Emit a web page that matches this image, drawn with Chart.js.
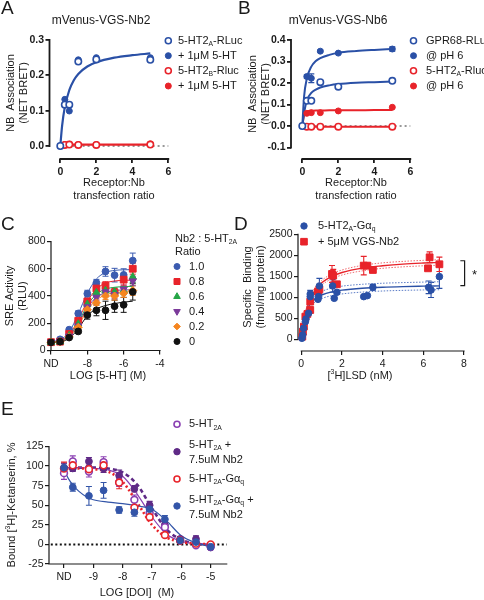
<!DOCTYPE html>
<html>
<head>
<meta charset="utf-8">
<script src="https://cdn.jsdelivr.net/npm/chart.js@4.4.1/dist/chart.umd.min.js"></script>
<style>
  body { margin: 0; background: #fff; }
  #wrap { position: relative; width: 484px; height: 600px; overflow: hidden; }
  canvas { position: absolute; }
</style>
</head>
<body>
<div id="wrap">
  <canvas id="cA"></canvas>
  <canvas id="cB"></canvas>
  <canvas id="cC"></canvas>
  <canvas id="cD"></canvas>
  <canvas id="cE"></canvas>
</div>
<script>
// ---- Panel A / B : receptor:Nb transfection ratio ----
const ratioX = [0, 0.25, 0.5, 1, 2, 5];
const fitRatioX = [0, 0.1, 0.25, 0.5, 0.75, 1, 1.5, 2, 3, 4, 5];

const aHt2aRluc = [0, 0.117, 0.117, 0.239, 0.245, 0.244];
const aHt2a5ht  = [0, 0.132, 0.099, 0.244, 0.25, 0.25];
const aHt2bRluc = [null, 0.003, 0.004, 0.003, 0.003, 0.004];
const aHt2b5ht  = [null, 0.004, 0.005, 0.004, 0.004, 0.006];
const aFitBlue  = [0, 0.057, 0.11, 0.158, 0.186, 0.204, 0.225, 0.237, 0.25, 0.257, 0.262];
const aFitRed   = [0, 0.003, 0.004, 0.004, 0.004, 0.004, 0.004, 0.004, 0.004, 0.004, 0.004];

const bGpr68      = [0, 0.117, 0.117, 0.204, 0.183, 0.21];
const bGpr68pH    = [0, 0.23, 0.222, 0.348, 0.339, 0.358];
const bGpr68pHErr = [0, 0.008, 0.02, 0.005, 0.004, 0.01];
const bHt2a       = [null, -0.003, -0.003, -0.003, -0.003, -0.003];
const bHt2apH     = [null, 0.059, 0.062, 0.062, 0.07, 0.087];
const bFitGpr     = [0, 0.06, 0.119, 0.154, 0.169, 0.179, 0.189, 0.195, 0.201, 0.204, 0.207];
const bFitGprPH   = [0, 0.138, 0.22, 0.276, 0.302, 0.316, 0.331, 0.341, 0.349, 0.354, 0.358];
const bFitHt2a    = [0, -0.003, -0.003, -0.003, -0.003, -0.003, -0.003, -0.003, -0.003, -0.003, -0.003];
const bFitHt2apH  = [0, 0.05, 0.068, 0.071, 0.072, 0.072, 0.073, 0.073, 0.073, 0.074, 0.074];

// ---- Panel C : SRE activity vs LOG [5-HT] ----
const doseC  = [-10, -9.5, -9, -8.5, -8, -7.5, -7, -6.5, -6, -5.5];
const c10    = [61, 82, 153, 272, 417, 497, 580, 553, 555, 660];
const c10Err = [8, 8, 10, 18, 25, 25, 35, 50, 45, 55];
const c08    = [61, 65, 121, 218, 360, 455, 475, 425, 520, 600];
const c08Err = [8, 8, 10, 15, 20, 25, 30, 30, 40, 40];
const c06    = [60, 65, 110, 195, 340, 425, 440, 430, 440, 540];
const c06Err = [6, 6, 8, 12, 20, 20, 25, 30, 30, 40];
const c04    = [60, 68, 105, 180, 320, 390, 430, 410, 450, 510];
const c04Err = [6, 6, 8, 12, 18, 20, 25, 30, 30, 35];
const c02    = [60, 65, 100, 170, 300, 350, 400, 400, 420, 440];
const c02Err = [6, 6, 8, 12, 18, 20, 25, 30, 30, 35];
const c00    = [60, 65, 95, 140, 260, 295, 295, 325, 335, 430];
const c00Err = [6, 6, 8, 12, 30, 40, 67, 45, 55, 60];
const cFit10 = [65, 80, 135, 270, 420, 525, 572, 588, 592, 594];
const cFit08 = [62, 72, 115, 225, 360, 450, 495, 510, 515, 517];
const cFit06 = [60, 70, 108, 205, 332, 412, 450, 464, 469, 471];
const cFit04 = [60, 68, 104, 195, 315, 390, 425, 440, 444, 446];
const cFit02 = [60, 67, 100, 180, 295, 370, 408, 424, 430, 432];
const cFit00 = [60, 64, 90, 160, 255, 305, 330, 345, 355, 362];

// ---- Panel D : [3H]LSD saturation binding ----
const dBlueX   = [0.03, 0.07, 0.11, 0.2, 0.23, 0.36, 0.44, 0.44, 0.82, 0.85, 0.89, 1.54, 1.62, 1.75, 3.07, 3.25, 3.52, 6.26, 6.38, 6.79];
const dBlueY   = [24, 103, 262, 420, 484, 619, 1016, 1079, 952, 1016, 1270, 1270, 976, 1119, 1016, 1040, 1238, 1238, 1175, 1492];
const dBlueErr = [0, 0, 0, 0, 0, 0, 150, 0, 0, 0, 180, 150, 0, 0, 0, 0, 70, 150, 180, 280];
const dRedX    = [0.05, 0.08, 0.13, 0.2, 0.3, 0.44, 0.44, 0.82, 0.89, 1.51, 1.57, 1.75, 3.07, 3.25, 3.52, 6.23, 6.31, 6.79];
const dRedY    = [63, 183, 302, 540, 603, 698, 897, 1135, 1190, 1556, 1516, 1310, 1754, 1754, 1651, 1690, 1952, 1786];
const dRedErr  = [0, 0, 0, 0, 0, 0, 0, 0, 0, 200, 150, 0, 220, 0, 0, 0, 130, 170];
const dFitX       = [0, 0.1, 0.2, 0.35, 0.5, 0.75, 1, 1.5, 2, 3, 4, 5, 6, 6.8];
const dFitRed     = [0, 355, 600, 850, 1025, 1220, 1345, 1500, 1590, 1695, 1750, 1790, 1815, 1830];
const dFitRedHi   = [0, 380, 640, 900, 1080, 1280, 1400, 1560, 1650, 1760, 1820, 1855, 1880, 1895];
const dFitRedLo   = [0, 330, 560, 800, 970, 1160, 1290, 1440, 1530, 1630, 1690, 1725, 1750, 1765];
const dFitBlue    = [0, 370, 580, 770, 880, 990, 1055, 1130, 1170, 1215, 1240, 1255, 1265, 1272];
const dFitBlueHi  = [0, 400, 640, 840, 950, 1070, 1140, 1220, 1265, 1310, 1335, 1350, 1362, 1370];
const dFitBlueLo  = [0, 340, 530, 700, 810, 910, 970, 1040, 1080, 1125, 1150, 1165, 1175, 1180];

// ---- Panel E : [3H]-ketanserin competition with DOI ----
const doseE        = [-10, -9.7, -9.15, -8.65, -8.12, -7.6, -7.08, -6.56, -6.04, -5.5, -5];
const eHt2a        = [91, 106, 93, 105, 79, 57, 40, 22, 5, -1, -3];
const eHt2aErr     = [8, 7, 7, 7, 5, 6, 5, 4, 3, 2, 2];
const eHt2aNb2     = [97, 97, 106, 97, 88, 71, 50, 25, 7, 7, -4];
const eHt2aNb2Err  = [6, 4, 5, 5, 7, 4, 5, 4, 3, 4, 2];
const eGq          = [97, 101, 96, 101, 79, 47, 35, 12, 5, 1, 0];
const eGqErr       = [8, 5, 5, 7, 8, 8, 4, 3, 2, 2, 2];
const eGqNb2       = [98, 73, 62, 69, 44, 41, 45, 32, 5, 3, -3];
const eGqNb2Err    = [6, 5, 12, 10, 4, 5, 4, 5, 2, 2, 2];
const eFitX        = [-10, -9.5, -9, -8.5, -8, -7.5, -7, -6.5, -6, -5.5, -5];
const eFitHt2a     = [98, 98, 97, 95, 87, 64, 35, 13, 4, 1, 0];
const eFitHt2aNb2  = [98, 98, 98, 97, 92, 76, 46, 19, 6, 1, -1];
const eFitGq       = [97, 97, 96, 93, 80, 53, 25, 9, 3, 1, 0];
const eFitGqNb2X   = [-10, -9.85, -9.7, -9.5, -9.2, -9, -8.5, -8, -7.5, -7, -6.5, -6, -5.5, -5];
const eFitGqNb2    = [96, 84, 76, 68, 60, 57, 54, 52, 49, 45, 30, 11, 2, -3];

// tick values
const xTicksAB = [0, 2, 4, 6];
const yTicksA  = [0, 0.1, 0.2, 0.3];
const yTicksB  = [-0.1, 0, 0.1, 0.2, 0.3, 0.4];
const xTicksC  = [-10, -8, -6, -4];
const yTicksC  = [0, 200, 400, 600, 800];
const xTicksD  = [0, 2, 4, 6, 8];
const yTicksD  = [0, 500, 1000, 1500, 2000, 2500];
const xTicksE  = [-10, -9, -8, -7, -6, -5];
const yTicksE  = [-25, 0, 25, 50, 75, 100, 125];

const FONT = '"Liberation Sans", Arial, Helvetica, sans-serif';
const INK = '#1a1a1a';
const BLUE = '#2a50a6', RED = '#e8232a', GREEN = '#25a546', PURPLE = '#5f2a86',
      LPURPLE = '#8a3fb2', ORANGE = '#f5851f', BLACK = '#111';

function pts(xs, ys) { return xs.map(function(x, i) { return {x: x, y: ys[i]}; }); }

function marks(xs, ys, color, o) {
	o = o || {};
	return {
		type: 'scatter', data: pts(xs, ys), errs: o.errs || null,
		borderColor: color, backgroundColor: color,
		pointStyle: o.style || 'circle', pointRotation: o.rot || 0,
		pointRadius: o.r || 3, pointBorderWidth: o.open ? 1.6 : 1,
		pointBackgroundColor: o.open ? '#fff' : color, pointBorderColor: color,
		showLine: false, clip: false, order: 0
	};
}

function fit(xs, ys, color, w, dash, order) {
	return {
		type: 'line', data: pts(xs, ys), borderColor: color, borderWidth: w,
		borderDash: dash || [], pointRadius: 0, fill: false,
		cubicInterpolationMode: 'monotone', clip: false, order: order || 2
	};
}

function richParts(str) {
	var out = [], re = /([_^])\{([^}]*)\}/g, last = 0, m;
	while ((m = re.exec(str))) {
		if (m.index > last) out.push({t: str.slice(last, m.index), k: ''});
		out.push({t: m[2], k: m[1]});
		last = re.lastIndex;
	}
	if (last < str.length) out.push({t: str.slice(last), k: ''});
	return out;
}

function drawRich(ctx, str, x, y, size, align, weight) {
	var parts = richParts(str), w = 0;
	var fontFor = function(k) { return (weight || 'normal') + ' ' + (k ? size * 0.62 : size) + 'px ' + FONT; };
	parts.forEach(function(p) { ctx.font = fontFor(p.k); p.w = ctx.measureText(p.t).width; w += p.w; });
	var cx = align === 'center' ? x - w / 2 : (align === 'right' ? x - w : x);
	ctx.textAlign = 'left';
	ctx.textBaseline = 'middle';
	parts.forEach(function(p) {
		ctx.font = fontFor(p.k);
		var dy = p.k === '_' ? size * 0.32 : (p.k === '^' ? -size * 0.35 : 0);
		ctx.fillText(p.t, cx, y + dy);
		cx += p.w;
	});
}

function drawMarker(ctx, k) {
	var r = k.r || 3.2, x = k.x, y = k.y;
	ctx.beginPath();
	if (k.style === 'rect') ctx.rect(x - r, y - r, 2 * r, 2 * r);
	else if (k.style === 'triangle') { ctx.moveTo(x, y - r * 1.15); ctx.lineTo(x + r, y + r * 0.6); ctx.lineTo(x - r, y + r * 0.6); ctx.closePath(); }
	else if (k.style === 'triangleDown') { ctx.moveTo(x, y + r * 1.15); ctx.lineTo(x + r, y - r * 0.6); ctx.lineTo(x - r, y - r * 0.6); ctx.closePath(); }
	else if (k.style === 'diamond') { ctx.moveTo(x, y - r * 1.2); ctx.lineTo(x + r * 1.2, y); ctx.lineTo(x, y + r * 1.2); ctx.lineTo(x - r * 1.2, y); ctx.closePath(); }
	else ctx.arc(x, y, r, 0, Math.PI * 2);
	ctx.fillStyle = k.open ? '#fff' : k.color;
	ctx.fill();
	ctx.lineWidth = k.open ? 1.6 : 1;
	ctx.strokeStyle = k.color;
	ctx.stroke();
}

function axis(c, isX, size, font, lw) {
	return {
		type: 'linear', min: c.min, max: c.max,
		afterBuildTicks: function(s) { s.ticks = c.ticks.map(function(v) { return {value: v}; }); },
		afterFit: function(s) { if (isX) s.height = size; else s.width = size; },
		ticks: {autoSkip: false, maxRotation: 0, minRotation: 0, padding: isX ? 3 : 1.5, color: INK, font: font, callback: c.fmt},
		grid: {display: true, drawOnChartArea: false, drawTicks: true, tickLength: 4,
			tickWidth: lw, tickColor: INK, color: INK, lineWidth: lw},
		border: {display: false}
	};
}

function decoPlugin(box, p) {
	return {
		id: 'deco',
		beforeDatasetsDraw: function(chart) {
			var ctx = chart.ctx, xs = chart.scales.x, ys = chart.scales.y, ca = chart.chartArea;
			ctx.save();
			// detached axis lines, Prism style
			ctx.strokeStyle = INK;
			ctx.lineWidth = p.axisW;
			ctx.beginPath();
			ctx.moveTo(ca.left, ys.getPixelForValue(p.y.line[1]) - p.axisW / 2);
			ctx.lineTo(ca.left, ys.getPixelForValue(p.y.line[0]) + p.axisW / 2);
			ctx.moveTo(xs.getPixelForValue(p.x.line[0]) - p.axisW / 2, ca.bottom);
			ctx.lineTo(xs.getPixelForValue(p.x.line[1]) + p.axisW / 2, ca.bottom);
			ctx.stroke();
			// error bars
			chart.data.datasets.forEach(function(ds) {
				if (!ds.errs) return;
				ctx.strokeStyle = ds.borderColor;
				ctx.lineWidth = p.errW || 1.2;
				ds.data.forEach(function(d, j) {
					var e = ds.errs[j];
					if (d.y == null || !e) return;
					var x = xs.getPixelForValue(d.x);
					var y1 = ys.getPixelForValue(d.y + e), y2 = ys.getPixelForValue(d.y - e);
					var cw = p.capW || 3;
					ctx.beginPath();
					ctx.moveTo(x, y1); ctx.lineTo(x, y2);
					ctx.moveTo(x - cw, y1); ctx.lineTo(x + cw, y1);
					ctx.moveTo(x - cw, y2); ctx.lineTo(x + cw, y2);
					ctx.stroke();
				});
			});
			if (p.bracket) {
				var b = p.bracket;
				ctx.strokeStyle = INK;
				ctx.lineWidth = 1.2;
				ctx.beginPath();
				ctx.moveTo(xs.getPixelForValue(b.x0), ys.getPixelForValue(b.y1));
				ctx.lineTo(xs.getPixelForValue(b.x1), ys.getPixelForValue(b.y1));
				ctx.lineTo(xs.getPixelForValue(b.x1), ys.getPixelForValue(b.y0));
				ctx.lineTo(xs.getPixelForValue(b.x0), ys.getPixelForValue(b.y0));
				ctx.stroke();
			}
			ctx.restore();
		},
		afterDraw: function(chart) {
			var ctx = chart.ctx;
			ctx.save();
			ctx.translate(-box.x, -box.y);
			(p.texts || []).forEach(function(t) {
				ctx.fillStyle = t.color || INK;
				if (t.rot) {
					ctx.save();
					ctx.translate(t.x, t.y);
					ctx.rotate(-Math.PI / 2);
					drawRich(ctx, t.t, 0, 0, t.size || 11, 'center', t.weight);
					ctx.restore();
				} else {
					drawRich(ctx, t.t, t.x, t.y, t.size || 11, t.align || 'left', t.weight);
				}
			});
			(p.keys || []).forEach(function(k) { drawMarker(ctx, k); });
			ctx.restore();
		}
	};
}

function makePanel(id, box, area, p) {
	var cv = document.getElementById(id);
	cv.width = box.w; cv.height = box.h;
	cv.style.left = box.x + 'px'; cv.style.top = box.y + 'px';
	cv.style.width = box.w + 'px'; cv.style.height = box.h + 'px';
	new Chart(cv, {
		type: 'scatter',
		data: {datasets: p.datasets},
		options: {
			responsive: false, animation: false, devicePixelRatio: 1, events: [],
			layout: {padding: {left: 0, top: area.t - box.y, right: box.x + box.w - area.r, bottom: 0}},
			plugins: {legend: {display: false}, tooltip: {enabled: false}, title: {display: false}},
			scales: {
				x: axis(p.x, true, box.y + box.h - area.b, p.tickFont, p.axisW),
				y: axis(p.y, false, area.l - box.x, p.tickFont, p.axisW)
			}
		},
		plugins: [decoPlugin(box, p)]
	});
}

var boldTicks = {family: FONT, size: 10.5, weight: 'bold'};
var plainTicks = {family: FONT, size: 10.5};
var asText = function(v) { return String(v); };
var oneDec = function(v) { return v.toFixed(1); };
var ndText = function(v) { return v === -10 ? 'ND' : String(v); };

// ---------- A ----------
makePanel('cA', {x: 0, y: 0, w: 245, h: 205}, {l: 49.5, t: 40, r: 168.3, b: 159}, {
	x: {min: -0.6, max: 6, ticks: xTicksAB, fmt: asText, line: [0, 6]},
	y: {min: -0.0368, max: 0.3, ticks: yTicksA, fmt: oneDec, line: [0, 0.3]},
	tickFont: boldTicks, axisW: 1.8,
	datasets: [
		fit([-0.15, 6], [0, 0], '#777', 1.5, [2, 3], 3),
		fit(fitRatioX, aFitBlue, BLUE, 2.2),
		fit(fitRatioX, aFitRed, RED, 2.2),
		marks(ratioX, aHt2aRluc, BLUE, {open: true, r: 3.2}),
		marks(ratioX, aHt2a5ht, BLUE, {r: 3}),
		marks(ratioX, aHt2bRluc, RED, {open: true, r: 3.2}),
		marks(ratioX, aHt2b5ht, RED, {r: 3})
	],
	texts: [
		{t: 'A', x: 1, y: 9, size: 19},
		{t: 'mVenus-VGS-Nb2', x: 101, y: 21, size: 12, align: 'center'},
		{t: 'NB  Association', x: 11, y: 93, rot: true},
		{t: '(NET BRET)', x: 24, y: 93, rot: true},
		{t: 'Receptor:Nb', x: 114, y: 183, align: 'center'},
		{t: 'transfection ratio', x: 114, y: 196, align: 'center'},
		{t: '5-HT2_{A}-RLuc', x: 178, y: 40.7},
		{t: '+ 1\u03bcM 5-HT', x: 178, y: 55.7},
		{t: '5-HT2_{B}-Rluc', x: 178, y: 70.7},
		{t: '+ 1\u03bcM 5-HT', x: 178, y: 86}
	],
	keys: [
		{x: 168.3, y: 40.7, color: BLUE, open: true, r: 3},
		{x: 168.3, y: 55.7, color: BLUE, r: 3},
		{x: 168.3, y: 70.7, color: RED, open: true, r: 3},
		{x: 168.3, y: 86, color: RED, r: 3}
	]
});

// ---------- B ----------
makePanel('cB', {x: 234, y: 0, w: 250, h: 205}, {l: 291, t: 40, r: 410.3, b: 159}, {
	x: {min: -0.628, max: 6, ticks: xTicksAB, fmt: asText, line: [0, 6]},
	y: {min: -0.1535, max: 0.4, ticks: yTicksB, fmt: oneDec, line: [-0.1, 0.4]},
	tickFont: boldTicks, axisW: 1.8, capW: 3,
	datasets: [
		fit([-0.15, 6], [0, 0], '#777', 1.5, [2, 3], 3),
		fit(fitRatioX, bFitGprPH, BLUE, 2),
		fit(fitRatioX, bFitGpr, BLUE, 2),
		fit(fitRatioX, bFitHt2apH, RED, 2),
		fit(fitRatioX, bFitHt2a, RED, 2),
		marks(ratioX, bGpr68, BLUE, {open: true, r: 3.2}),
		marks(ratioX, bGpr68pH, BLUE, {r: 3, errs: bGpr68pHErr}),
		marks(ratioX, bHt2a, RED, {open: true, r: 3.2}),
		marks(ratioX, bHt2apH, RED, {r: 3})
	],
	texts: [
		{t: 'B', x: 238, y: 9, size: 19},
		{t: 'mVenus-VGS-Nb6', x: 338, y: 21, size: 12, align: 'center'},
		{t: 'NB  Association', x: 252.5, y: 94, rot: true},
		{t: '(NET BRET)', x: 265.5, y: 94, rot: true},
		{t: 'Receptor:Nb', x: 356, y: 183, align: 'center'},
		{t: 'transfection ratio', x: 356, y: 196, align: 'center'},
		{t: 'GPR68-RLuc', x: 426, y: 40.7},
		{t: '@ pH 6', x: 426, y: 55.7},
		{t: '5-HT2_{A}-Rluc', x: 426, y: 70.7},
		{t: '@ pH 6', x: 426, y: 86}
	],
	keys: [
		{x: 413.5, y: 40.7, color: BLUE, open: true, r: 3},
		{x: 413.5, y: 55.7, color: BLUE, r: 3},
		{x: 413.5, y: 70.7, color: RED, open: true, r: 3},
		{x: 413.5, y: 86, color: RED, r: 3}
	]
});

// ---------- C ----------
makePanel('cC', {x: 0, y: 205, w: 245, h: 190}, {l: 51, t: 241.5, r: 160, b: 350.5}, {
	x: {min: -10, max: -4, ticks: xTicksC, fmt: ndText, line: [-10, -4]},
	y: {min: 0, max: 800, ticks: yTicksC, fmt: asText, line: [0, 800]},
	tickFont: plainTicks, axisW: 1.2, capW: 3, errW: 1,
	datasets: [
		fit(doseC, cFit00, BLACK, 1),
		fit(doseC, cFit02, ORANGE, 1),
		fit(doseC, cFit04, '#7b3a9a', 1),
		fit(doseC, cFit06, GREEN, 1),
		fit(doseC, cFit08, RED, 1),
		fit(doseC, cFit10, '#3b5bb0', 1),
		marks(doseC, c00, BLACK, {r: 3.4, errs: c00Err}),
		marks(doseC, c02, ORANGE, {style: 'rectRot', r: 4, errs: c02Err}),
		marks(doseC, c04, '#7b3a9a', {style: 'triangle', rot: 180, r: 4.2, errs: c04Err}),
		marks(doseC, c06, GREEN, {style: 'triangle', r: 4.2, errs: c06Err}),
		marks(doseC, c08, RED, {style: 'rect', r: 4.8, errs: c08Err}),
		marks(doseC, c10, '#3b5bb0', {r: 3.4, errs: c10Err})
	],
	texts: [
		{t: 'C', x: 1, y: 225, size: 19},
		{t: 'SRE Activity', x: 9.5, y: 296, rot: true},
		{t: '(RLU)', x: 22.5, y: 296, rot: true},
		{t: 'LOG [5-HT] (M)', x: 108, y: 376, align: 'center'},
		{t: 'Nb2 : 5-HT_{2A}', x: 175, y: 239},
		{t: 'Ratio', x: 175, y: 251.5},
		{t: '1.0', x: 189, y: 266.5},
		{t: '0.8', x: 189, y: 281.5},
		{t: '0.6', x: 189, y: 296.5},
		{t: '0.4', x: 189, y: 311.5},
		{t: '0.2', x: 189, y: 326.5},
		{t: '0', x: 189, y: 341.5}
	],
	keys: [
		{x: 177, y: 266.5, color: '#3b5bb0', r: 3},
		{x: 177, y: 281.5, color: RED, style: 'rect', r: 3},
		{x: 177, y: 296.5, color: GREEN, style: 'triangle', r: 3.3},
		{x: 177, y: 311.5, color: '#7b3a9a', style: 'triangleDown', r: 3.3},
		{x: 177, y: 326.5, color: ORANGE, style: 'diamond', r: 2.8},
		{x: 177, y: 341.5, color: BLACK, r: 3}
	]
});

// ---------- D ----------
makePanel('cD', {x: 232, y: 205, w: 252, h: 190}, {l: 298, t: 234.3, r: 464, b: 351}, {
	x: {min: -0.162, max: 8, ticks: xTicksD, fmt: asText, line: [0, 8]},
	y: {min: -278.6, max: 2500, ticks: yTicksD, fmt: asText, line: [0, 2500]},
	tickFont: plainTicks, axisW: 1.2, capW: 3, errW: 1.1,
	bracket: {x0: 7.82, x1: 8.03, y0: 1280, y1: 1870},
	datasets: [
		fit(dFitX, dFitBlueHi, '#5b7cc6', 1, [1.5, 1.5]),
		fit(dFitX, dFitBlueLo, '#5b7cc6', 1, [1.5, 1.5]),
		fit(dFitX, dFitRedHi, '#f06a6e', 1, [1.5, 1.5]),
		fit(dFitX, dFitRedLo, '#f06a6e', 1, [1.5, 1.5]),
		fit(dFitX, dFitBlue, BLUE, 1.4),
		fit(dFitX, dFitRed, RED, 1.4),
		marks(dBlueX, dBlueY, BLUE, {r: 3.3, errs: dBlueErr}),
		marks(dRedX, dRedY, RED, {style: 'rect', r: 4.8, errs: dRedErr})
	],
	texts: [
		{t: 'D', x: 234, y: 225, size: 19},
		{t: 'Specific  Binding', x: 247.5, y: 287, rot: true},
		{t: '(fmol/mg protein)', x: 260.5, y: 287, rot: true},
		{t: '[^{3}H]LSD (nM)', x: 360, y: 376, align: 'center'},
		{t: '5-HT2_{A}-G\u03b1_{q}', x: 318, y: 226},
		{t: '+ 5\u03bcM VGS-Nb2', x: 318, y: 241.7},
		{t: '*', x: 472, y: 275, size: 13}
	],
	keys: [
		{x: 304, y: 226, color: BLUE, r: 3.2},
		{x: 304, y: 241.7, color: RED, style: 'rect', r: 3.3}
	]
});

// ---------- E ----------
makePanel('cE', {x: 0, y: 398, w: 484, h: 202}, {l: 49, t: 446.5, r: 226.7, b: 564}, {
	x: {min: -10.511, max: -4.453, ticks: xTicksE, fmt: ndText, line: [-10.511, -4.453]},
	y: {min: -25, max: 125, ticks: yTicksE, fmt: asText, line: [-25, 125]},
	tickFont: plainTicks, axisW: 1.2, capW: 3, errW: 1.1,
	datasets: [
		fit([-10.45, -4.45], [0, 0], BLACK, 2, [2, 2.5], 3),
		fit(eFitGqNb2X, eFitGqNb2, '#3355a8', 1.2),
		fit(eFitX, eFitGq, RED, 2.6, [2, 2.5]),
		fit(eFitX, eFitHt2a, LPURPLE, 1.2),
		fit(eFitX, eFitHt2aNb2, PURPLE, 2.6, [4, 3]),
		marks(doseE, eGqNb2, '#3355a8', {r: 3.4, errs: eGqNb2Err}),
		marks(doseE, eGq, RED, {open: true, r: 3.4, errs: eGqErr}),
		marks(doseE, eHt2a, LPURPLE, {open: true, r: 3.4, errs: eHt2aErr}),
		marks(doseE, eHt2aNb2, PURPLE, {r: 3.4, errs: eHt2aNb2Err})
	],
	texts: [
		{t: 'E', x: 1, y: 410, size: 19},
		{t: 'Bound [^{3}H]-Ketanserin, %', x: 12, y: 505, rot: true},
		{t: 'LOG [DOI]  (M)', x: 137, y: 593, align: 'center'},
		{t: '5-HT_{2A}', x: 189, y: 424.3},
		{t: '5-HT_{2A} +', x: 189, y: 445},
		{t: '7.5uM Nb2', x: 189, y: 460},
		{t: '5-HT_{2A}-G\u03b1_{q}', x: 189, y: 479},
		{t: '5-HT_{2A}-G\u03b1_{q} +', x: 189, y: 500},
		{t: '7.5uM Nb2', x: 189, y: 515}
	],
	keys: [
		{x: 177, y: 424.3, color: LPURPLE, open: true, r: 3},
		{x: 177, y: 451.7, color: PURPLE, r: 3.2},
		{x: 177, y: 479, color: RED, open: true, r: 3},
		{x: 177, y: 506, color: '#3355a8', r: 3.2}
	]
});
</script>
</body>
</html>
